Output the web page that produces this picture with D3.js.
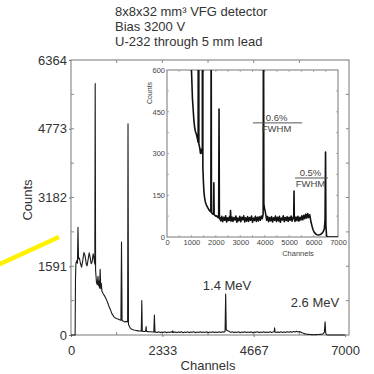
<!DOCTYPE html>
<html>
<head>
<meta charset="utf-8">
<script src="https://cdn.jsdelivr.net/npm/d3@7"></script>
<style>
  body { margin: 0; background: #fff; }
  svg { display: block; font-family: "Liberation Sans", Arial, sans-serif; }
</style>
</head>
<body>
<div id="chart"></div>
<script>
// title lines
var titleLines = ["8x8x32 mm\u00b3 VFG detector", "Bias 3200 V", "U-232 through 5 mm lead"];

// axis ticks
var mainYTicks = [0, 1591, 3182, 4773, 6364];
var mainXTicks = [0, 2333, 4667, 7000];
var insetYTicks = [0, 150, 300, 450, 600];
var insetXTicks = [0, 1000, 2000, 3000, 4000, 5000, 6000, 7000];

// peak labels in the main plot
var peakLabels = ["1.4 MeV", "2.6 MeV"];
var peakLabelChannels = [3985, 6230];
var peakLabelCounts = [1050, 650];

// FWHM notes in the inset: [channel from, channel to, counts]
var fwhmText = ["0.6%", "0.5%"];
var fwhmLines = [[3520, 5530, 410], [5240, 6590, 212]];

// spectrum: [channel, counts]
var spectrum = [
  [0,0],[105,0],[115,1300],[125,1650],[145,1720],[165,1660],[178,2495],[192,1760],[215,1780],[240,1660],
  [270,1570],[300,1720],[330,1910],[360,1830],[390,1640],[410,1600],[440,1760],[465,1900],[490,1790],
  [515,1650],[540,1690],[565,1880],[590,1760],[608,1640],[618,5820],[628,1500],[650,1220],[670,1170],
  [690,1360],[700,1140],[715,1250],[728,1090],[745,1520],[760,1070],[775,1190],[790,1010],[820,960],
  [860,900],[900,830],[940,740],[980,640],[1010,580],[1040,500],[1070,460],[1100,420],[1130,395],
  [1160,380],[1200,370],[1240,355],[1275,340],[1290,2150],[1305,335],[1340,320],[1370,300],[1400,315],
  [1430,305],[1446,300],[1456,4890],[1468,250],[1490,200],[1510,165],[1540,140],[1570,126],[1610,116],
  [1650,108],[1690,102],[1730,96],[1770,92],[1795,90],[1808,800],[1820,88],[1850,84],[1885,82],
  [1905,86],[1918,195],[1930,80],[1960,78],[2000,75],[2040,76],[2080,70],[2115,72],[2130,460],
  [2145,66],[2160,70],[2200,58],[2240,74],[2280,55],[2320,71],[2360,60],[2400,76],[2440,54],
  [2480,69],[2520,59],[2560,73],[2590,60],[2600,95],[2620,57],[2660,72],[2700,56],[2740,70],
  [2780,61],[2820,75],[2860,53],[2900,68],[2940,58],[2980,74],[3020,55],[3060,71],[3100,62],
  [3140,76],[3180,54],[3220,69],[3260,57],[3300,73],[3340,56],[3380,70],[3420,60],[3460,75],
  [3500,53],[3540,68],[3580,59],[3620,74],[3660,56],[3700,71],[3740,58],[3780,73],[3820,60],
  [3860,75],[3900,66],[3935,82],[3950,950],[3965,120],[3990,104],[4020,92],[4050,78],[4080,60],
  [4120,74],[4160,55],[4200,70],[4240,58],[4280,73],[4320,54],[4360,69],[4400,60],[4440,75],
  [4480,56],[4520,71],[4560,58],[4600,74],[4640,53],[4680,68],[4720,61],[4760,76],[4800,55],
  [4840,70],[4880,59],[4920,73],[4960,56],[5000,71],[5040,60],[5080,75],[5120,57],[5160,70],
  [5188,74],[5200,165],[5212,68],[5240,56],[5280,72],[5320,59],[5360,74],[5400,57],[5440,71],
  [5480,61],[5520,76],[5560,62],[5600,78],[5640,66],[5680,82],[5720,68],[5760,84],[5800,70],
  [5840,80],[5870,66],[5900,52],[5940,38],[5980,26],[6020,18],[6060,14],[6100,10],[6150,8],
  [6200,7],[6250,8],[6300,10],[6350,14],[6400,20],[6440,30],[6470,60],[6490,305],[6505,40],
  [6530,6],[6560,0],[7000,0]
];

var W = 374, H = 374;
var fmt = d3.format("d");
var svg = d3.select("#chart").append("svg")
    .attr("width", W)
    .attr("height", H);

svg.append("rect").attr("width", W).attr("height", H).attr("fill", "#fff");

// ---- title
svg.append("g").selectAll("text")
    .data(titleLines)
  .enter().append("text")
    .attr("x", 115)
    .attr("y", function(d, i) { return 16 + i * 15; })
    .attr("font-size", 13)
    .attr("fill", "#333")
    .text(function(d) { return d; });

// ---- main plot
var m = {left: 71, right: 349, top: 60, bottom: 335};
var x = d3.scaleLinear().domain([0, 7100]).range([m.left, m.right]);
var y = d3.scaleLinear().domain([0, 6364]).range([m.bottom, m.top]);

svg.append("rect")
    .attr("x", m.left).attr("y", m.top)
    .attr("width", m.right - m.left).attr("height", m.bottom - m.top)
    .attr("fill", "none").attr("stroke", "#777").attr("stroke-width", 1);

// minor ticks inside the frame
var yMinor = d3.range(1, 8).map(function(k) { return k * 6364 / 8; });
var xMinor = d3.range(1, 6).map(function(k) { return k * 7000 / 6; });
var mt = svg.append("g").attr("stroke", "#888").attr("stroke-width", 1);
yMinor.forEach(function(v) {
  mt.append("line").attr("x1", m.left).attr("x2", m.left + 3).attr("y1", y(v)).attr("y2", y(v));
  mt.append("line").attr("x1", m.right).attr("x2", m.right - 3).attr("y1", y(v)).attr("y2", y(v));
});
xMinor.forEach(function(v) {
  mt.append("line").attr("y1", m.bottom).attr("y2", m.bottom - 3).attr("x1", x(v)).attr("x2", x(v));
  mt.append("line").attr("y1", m.top).attr("y2", m.top + 3).attr("x1", x(v)).attr("x2", x(v));
});

var yAxis = svg.append("g")
    .attr("transform", "translate(" + m.left + ",0)")
    .call(d3.axisLeft(y).tickValues(mainYTicks).tickFormat(fmt).tickSizeInner(2).tickSizeOuter(0).tickPadding(2));
var xAxis = svg.append("g")
    .attr("transform", "translate(0," + m.bottom + ")")
    .call(d3.axisBottom(x).tickValues(mainXTicks).tickFormat(fmt).tickSizeInner(2).tickSizeOuter(0).tickPadding(9));
[yAxis, xAxis].forEach(function(a) {
  a.select(".domain").remove();
  a.selectAll("line").attr("stroke", "#777");
  a.selectAll("text").attr("font-size", 13).attr("fill", "#333")
    .style("font-family", "'Liberation Sans', Arial, sans-serif");
});

svg.append("text")
    .attr("x", 208).attr("y", 370)
    .attr("text-anchor", "middle").attr("font-size", 13).attr("fill", "#333")
    .text("Channels");
svg.append("text")
    .attr("transform", "translate(32,200) rotate(-90)")
    .attr("text-anchor", "middle").attr("font-size", 13).attr("fill", "#333")
    .text("Counts");

var line = d3.line()
    .x(function(d) { return x(d[0]); })
    .y(function(d) { return y(d[1]); });

svg.append("path")
    .datum(spectrum)
    .attr("fill", "none")
    .attr("stroke", "#1a1a1a")
    .attr("stroke-width", 1.1)
    .attr("stroke-linejoin", "round")
    .attr("d", line);

svg.append("g").selectAll("text")
    .data(peakLabels)
  .enter().append("text")
    .attr("x", function(d, i) { return x(peakLabelChannels[i]); })
    .attr("y", function(d, i) { return y(peakLabelCounts[i]); })
    .attr("text-anchor", "middle").attr("font-size", 13).attr("fill", "#333")
    .text(function(d) { return d; });

// ---- inset
var n = {left: 167, right: 338, top: 70, bottom: 237};
var xi = d3.scaleLinear().domain([0, 7000]).range([n.left, n.right]);
var yi = d3.scaleLinear().domain([0, 600]).range([n.bottom, n.top]);

svg.append("clipPath").attr("id", "insetClip")
  .append("rect")
    .attr("x", n.left).attr("y", n.top)
    .attr("width", n.right - n.left).attr("height", n.bottom - n.top);

svg.append("rect")
    .attr("x", n.left).attr("y", n.top)
    .attr("width", n.right - n.left).attr("height", n.bottom - n.top)
    .attr("fill", "none").attr("stroke", "#777").attr("stroke-width", 1);

var it = svg.append("g").attr("stroke", "#999").attr("stroke-width", 0.8);
d3.range(1, 8).forEach(function(k) {
  var v = k * 75;
  it.append("line").attr("x1", n.left).attr("x2", n.left + 2).attr("y1", yi(v)).attr("y2", yi(v));
  it.append("line").attr("x1", n.right).attr("x2", n.right - 2).attr("y1", yi(v)).attr("y2", yi(v));
});
d3.range(1, 14).forEach(function(k) {
  var v = k * 500;
  it.append("line").attr("y1", n.bottom).attr("y2", n.bottom - 2).attr("x1", xi(v)).attr("x2", xi(v));
  it.append("line").attr("y1", n.top).attr("y2", n.top + 2).attr("x1", xi(v)).attr("x2", xi(v));
});

var yiAxis = svg.append("g")
    .attr("transform", "translate(" + n.left + ",0)")
    .call(d3.axisLeft(yi).tickValues(insetYTicks).tickFormat(fmt).tickSize(0).tickPadding(2));
var xiAxis = svg.append("g")
    .attr("transform", "translate(0," + n.bottom + ")")
    .call(d3.axisBottom(xi).tickValues(insetXTicks).tickFormat(fmt).tickSize(0).tickPadding(3));
[yiAxis, xiAxis].forEach(function(a) {
  a.select(".domain").remove();
  a.selectAll("text").attr("font-size", 7.5).attr("fill", "#444")
    .style("font-family", "'Liberation Sans', Arial, sans-serif");
});

svg.append("text")
    .attr("x", 298).attr("y", 256)
    .attr("text-anchor", "middle").attr("font-size", 7.5).attr("fill", "#444")
    .text("Channels");
svg.append("text")
    .attr("transform", "translate(152,93) rotate(-90)")
    .attr("text-anchor", "middle").attr("font-size", 7).attr("fill", "#444")
    .text("Counts");

var lineInset = d3.line()
    .x(function(d) { return xi(d[0]); })
    .y(function(d) { return yi(d[1]); });

svg.append("path")
    .datum(spectrum.filter(function(d) { return d[0] >= 900; }))
    .attr("clip-path", "url(#insetClip)")
    .attr("fill", "none")
    .attr("stroke", "#111")
    .attr("stroke-width", 1.6)
    .attr("stroke-linejoin", "round")
    .attr("d", lineInset);

var fw = svg.append("g");
fwhmLines.forEach(function(f, i) {
  var cx = (xi(f[0]) + xi(f[1])) / 2 - 1;
  fw.append("line")
      .attr("x1", xi(f[0])).attr("x2", xi(f[1]))
      .attr("y1", yi(f[2])).attr("y2", yi(f[2]))
      .attr("stroke", "#555").attr("stroke-width", 1);
  fw.append("text")
      .attr("x", cx).attr("y", yi(f[2]) - 2)
      .attr("text-anchor", "middle").attr("font-size", 9.5).attr("fill", "#444")
      .text(fwhmText[i]);
  fw.append("text")
      .attr("x", cx).attr("y", yi(f[2]) + 9.5)
      .attr("text-anchor", "middle").attr("font-size", 9.5).attr("fill", "#444")
      .text("FWHM");
});

// yellow pointer stroke at the left edge
svg.append("line")
    .attr("x1", -2).attr("y1", 265)
    .attr("x2", 59).attr("y2", 237)
    .attr("stroke", "#fff200")
    .attr("stroke-width", 4.5);
</script>
</body>
</html>
